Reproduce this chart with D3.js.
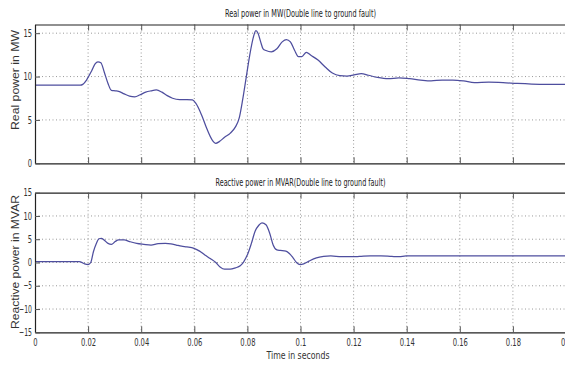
<!DOCTYPE html>
<html>
<head>
<meta charset="utf-8">
<script src="https://cdn.jsdelivr.net/npm/d3@7"></script>
<style>
  html, body { margin: 0; padding: 0; background: #fff; }
  svg { display: block; }
</style>
</head>
<body>
<svg id="chart" width="565" height="365"></svg>
<script>
// ---- data ----
const timeReal = [0, 0.017, 0.018, 0.0194, 0.0214, 0.0227, 0.0237, 0.0248, 0.0261, 0.0275,
  0.0288, 0.0302, 0.0315, 0.0336, 0.0356, 0.0376, 0.0396, 0.0417, 0.0437, 0.0457,
  0.0478, 0.0498, 0.0518, 0.0545, 0.0572, 0.0593, 0.0606, 0.0627, 0.0647, 0.0667,
  0.0681, 0.0694, 0.0714, 0.0735, 0.0755, 0.0769, 0.0782, 0.0796, 0.0809, 0.0823,
  0.0832, 0.084, 0.085, 0.0859, 0.087, 0.089, 0.0911, 0.0931, 0.0947, 0.0962,
  0.0978, 0.0992, 0.1005, 0.1022, 0.1039, 0.1066, 0.1093, 0.112, 0.1148, 0.1175,
  0.1202, 0.1229, 0.1256, 0.129, 0.133, 0.1371, 0.1411, 0.1452, 0.1492, 0.1533,
  0.1574, 0.1614, 0.1655, 0.1709, 0.1763, 0.1817, 0.1871, 0.1926, 0.2];
const realPowerMW = [9.0, 9.0, 9.1, 9.6, 10.7, 11.5, 11.7, 11.6, 10.5, 9.2,
  8.4, 8.35, 8.3, 8.0, 7.75, 7.67, 7.9, 8.2, 8.35, 8.45,
  8.2, 7.8, 7.5, 7.35, 7.35, 7.3, 6.9, 5.6, 4.0, 2.7,
  2.3, 2.5, 3.0, 3.45, 4.2, 5.2, 7.3, 10.0, 12.5, 14.6,
  15.3, 15.0, 14.0, 13.2, 13.0, 12.85, 13.2, 14.0, 14.27, 14.0,
  13.0, 12.3, 12.3, 12.8, 12.45, 11.9, 11.1, 10.4, 10.1, 10.05,
  10.2, 10.35, 10.15, 9.9, 9.75, 9.85, 9.75, 9.6, 9.5, 9.6,
  9.6, 9.5, 9.3, 9.35, 9.3, 9.2, 9.13, 9.1, 9.1];

const timeReactive = [0, 0.0166, 0.0173, 0.0187, 0.02, 0.021, 0.022, 0.0231, 0.0241, 0.025,
  0.0261, 0.0275, 0.0288, 0.0302, 0.0315, 0.0336, 0.0356, 0.0383, 0.041, 0.0437,
  0.0464, 0.0491, 0.0512, 0.0532, 0.0552, 0.0572, 0.0599, 0.062, 0.064, 0.066,
  0.0681, 0.0697, 0.0714, 0.0735, 0.0755, 0.0773, 0.0786, 0.0802, 0.0815, 0.0829,
  0.0843, 0.0855, 0.087, 0.0884, 0.0897, 0.0911, 0.0924, 0.0945, 0.0958, 0.0972,
  0.0985, 0.0999, 0.1012, 0.1032, 0.106, 0.1087, 0.1114, 0.1154, 0.1195, 0.1222,
  0.1263, 0.1303, 0.1344, 0.1371, 0.1398, 0.15, 0.17, 0.2];
const reactivePowerMVAR = [0.2, 0.2, 0.1, -0.3, -0.45, 0, 2.3, 4.1, 5.1, 5.2,
  4.8, 4.1, 3.9, 4.5, 4.85, 4.85, 4.5, 4.1, 3.9, 3.75,
  4.05, 4.1, 4.0, 3.75, 3.5, 3.35, 3.05, 2.45, 1.6, 0.85,
  0, -0.95, -1.45, -1.45, -1.15, -0.7, 0.15, 1.95, 4.1, 6.7,
  8.0, 8.5, 8.1, 6.3, 3.75, 2.7, 2.6, 2.45, 1.95, 1.0,
  0, -0.45, -0.3, 0.3, 1.0, 1.3, 1.4, 1.25, 1.25, 1.3,
  1.4, 1.4, 1.3, 1.25, 1.4, 1.4, 1.4, 1.4];

const xTicks = [0, 0.02, 0.04, 0.06, 0.08, 0.1, 0.12, 0.14, 0.16, 0.18, 0.2];
const yTicksReal = [0, 5, 10, 15];
const yTicksReactive = [-15, -10, -5, 0, 5, 10, 15];

const titleReal = "Real power in MW(Double line to ground fault)";
const titleReactive = "Reactive power in MVAR(Double line to ground fault)";
const yLabelReal = "Real power in MW";
const yLabelReactive = "Reactive power in MVAR";
const xLabel = "Time in seconds";

// ---- layout ----
const svg = d3.select("#chart");
const left = 35, right = 566;
const x = d3.scaleLinear().domain([0, 0.2]).range([left, right]);

const panels = [
  { t: timeReal, v: realPowerMW, yDomain: [0, 16], top: 24.5, bottom: 163.3, yTicks: yTicksReal,
    title: titleReal, titleY: 17, titleLen: 151, ylabel: yLabelReal, ylabelY: 80, ylabelLen: 100, xLabels: false },
  { t: timeReactive, v: reactivePowerMVAR, yDomain: [-15, 15], top: 192.7, bottom: 332.3, yTicks: yTicksReactive,
    title: titleReactive, titleY: 186, titleLen: 170, ylabel: yLabelReactive, ylabelY: 262, ylabelLen: 134, xLabels: true }
];

const fmtX = d => d === 0 ? "0" : String(+d.toFixed(2));
const narrow = '"Liberation Sans Narrow", "DejaVu Sans Condensed", "Liberation Sans", sans-serif';
// approximate condensed label width
const labelWidth = s => s.split("").reduce((a, c) => a + (c === "." ? 2.2 : c === "-" ? 3 : 4.3), 0);

panels.forEach((p, i) => {
  const y = d3.scaleLinear().domain(p.yDomain).range([p.bottom, p.top]);
  const g = svg.append("g");

  // grid
  g.append("g").selectAll("line").data(xTicks.filter(d => d > 0 && d < 0.2)).join("line")
    .attr("x1", d => x(d)).attr("x2", d => x(d))
    .attr("y1", p.top).attr("y2", p.bottom)
    .attr("stroke", "#808080").attr("stroke-width", 0.8).attr("stroke-dasharray", "1,2.5");
  g.append("g").selectAll("line").data(p.yTicks.filter(d => d > p.yDomain[0] && d < p.yDomain[1])).join("line")
    .attr("x1", left).attr("x2", right)
    .attr("y1", d => y(d)).attr("y2", d => y(d))
    .attr("stroke", "#808080").attr("stroke-width", 0.8).attr("stroke-dasharray", "1,2.5");

  // clip & line
  const cid = "clip" + i;
  svg.append("clipPath").attr("id", cid).append("rect")
    .attr("x", left).attr("y", p.top).attr("width", right - left).attr("height", p.bottom - p.top);
  const data = p.t.map((t, k) => [t, p.v[k]]);
  g.append("path").datum(data)
    .attr("clip-path", `url(#${cid})`)
    .attr("fill", "none").attr("stroke", "#4e4e9e").attr("stroke-width", 1.25)
    .attr("d", d3.line().x(d => x(d[0])).y(d => y(d[1])).curve(d3.curveMonotoneX));

  // bottom axis (ticks inward)
  const xb = d3.axisBottom(x).tickValues(xTicks).tickSizeInner(-6).tickSizeOuter(0)
    .tickFormat(p.xLabels ? fmtX : () => "");
  const gxb = g.append("g").attr("transform", `translate(0,${p.bottom})`).call(xb);
  gxb.select(".domain").attr("stroke", "#222").attr("stroke-width", 1.2);
  gxb.selectAll(".tick line").attr("stroke", "#555");
  gxb.selectAll(".tick text").attr("dy", "0").attr("y", 14)
    .attr("font-size", 10.5).attr("fill", "#333").style("font-family", narrow)
    .each(function () {
      const s = d3.select(this).text();
      if (s) d3.select(this).attr("textLength", labelWidth(s)).attr("lengthAdjust", "spacingAndGlyphs");
    });

  // top axis (ticks inward)
  const xt = d3.axisTop(x).tickValues(xTicks).tickSizeInner(-6).tickSizeOuter(0).tickFormat(() => "");
  const gxt = g.append("g").attr("transform", `translate(0,${p.top})`).call(xt);
  gxt.select(".domain").attr("stroke", "#222").attr("stroke-width", 1.2);
  gxt.selectAll(".tick line").attr("stroke", "#555");

  // left axis (ticks inward)
  const yl = d3.axisLeft(y).tickValues(p.yTicks).tickSizeInner(-5).tickSizeOuter(0).tickFormat(d3.format("d"));
  const gyl = g.append("g").attr("transform", `translate(${left},0)`).call(yl);
  gyl.select(".domain").attr("stroke", "#222").attr("stroke-width", 1.2);
  gyl.selectAll(".tick line").attr("stroke", "#555");
  gyl.selectAll(".tick text").attr("x", -3).attr("dy", "0.3em")
    .attr("font-size", 10.5).attr("fill", "#333").style("font-family", narrow)
    .each(function () {
      const s = d3.select(this).text();
      d3.select(this).attr("textLength", labelWidth(s)).attr("lengthAdjust", "spacingAndGlyphs");
    });

  // title
  svg.append("text").attr("x", (left + right) / 2).attr("y", p.titleY)
    .attr("text-anchor", "middle").attr("font-size", 10).attr("fill", "#222")
    .style("font-family", narrow)
    .attr("textLength", p.titleLen).attr("lengthAdjust", "spacingAndGlyphs")
    .text(p.title);

  // y label
  svg.append("text").attr("transform", `translate(19,${p.ylabelY}) rotate(-90)`)
    .attr("text-anchor", "middle").attr("font-size", 11).attr("fill", "#333")
    .style("font-family", '"Liberation Sans", Arial, sans-serif')
    .attr("textLength", p.ylabelLen).attr("lengthAdjust", "spacingAndGlyphs")
    .text(p.ylabel);
});

// x label
svg.append("text").attr("x", 298).attr("y", 359)
  .attr("text-anchor", "middle").attr("font-size", 11).attr("fill", "#333")
  .style("font-family", narrow)
  .attr("textLength", 63).attr("lengthAdjust", "spacingAndGlyphs")
  .text(xLabel);
</script>
</body>
</html>
